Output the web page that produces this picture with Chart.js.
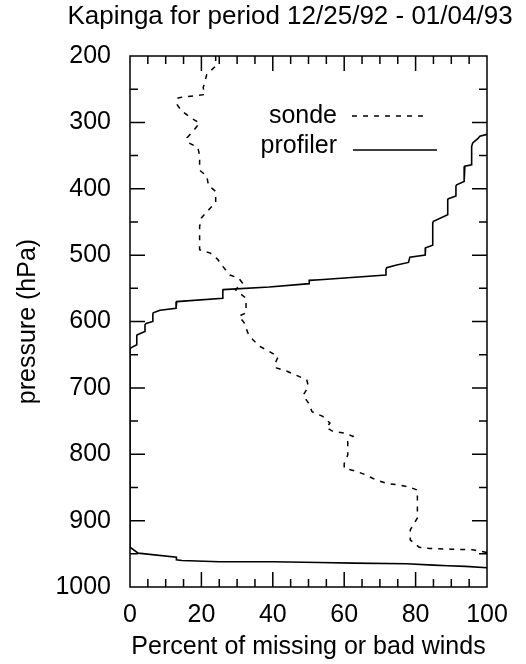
<!DOCTYPE html>
<html lang="en">
<head>
<meta charset="UTF-8">
<title>Kapinga - missing or bad winds</title>
<script src="https://cdn.jsdelivr.net/npm/chart.js@4.4.4/dist/chart.umd.min.js"></script>
<style>
  html, body { margin: 0; padding: 0; background: #fff; }
  #wrap { width: 526px; height: 664px; }
</style>
</head>
<body>
<div id="wrap"><canvas id="winds" width="526" height="664"></canvas></div>
<script>
// percent of missing / bad winds at each pressure level (hPa)
const sondePct = [24, 24, 21.5, 20.5, 21, 13.5, 13, 14.5, 17, 19.5, 18, 16, 16.5, 19, 19.5, 19.5,
  21.5, 22, 24, 24, 22, 20, 19.5, 19.5, 22.5, 24.5, 26, 28, 30.5, 31.5, 29.5, 32.5, 32.5, 30.5,
  32, 33, 34.5, 36.5, 39, 41.5, 40.5, 41, 44, 47, 49.5, 50, 48.5, 50, 51, 54, 56, 55, 57, 60,
  62.5, 61, 61, 60, 60, 63, 66, 69, 72, 75, 78, 80.5, 80.5, 78.5, 78.5, 81, 84, 90, 96, 100];
const sondeHpa = [200, 215, 228, 248, 258, 263, 272, 283, 293, 301, 311, 323, 331, 338, 350, 372,
  381, 395, 404, 420, 432, 444, 457, 492, 497, 506, 517, 530, 535, 542, 552, 565, 587, 592,
  602, 617, 628, 638, 645, 653, 665, 670, 675, 682, 688, 698, 711, 723, 736, 743, 753, 760, 766, 768,
  773, 781, 801, 814, 821, 825, 831, 839, 844, 846, 849, 854, 896, 914, 929, 940, 942, 943, 944, 948];

const profilerPct = [100, 98, 97.5, 96, 95.7, 95.7, 93.8, 93.6, 93.6, 91.5, 91.3, 91.3, 89.2, 89, 89,
  85, 84.8, 84.8, 82.8, 82.7, 82.7, 78.4, 78, 74.7, 71.9, 71.7, 71.7, 53.2, 50.2, 50.2, 39, 26.1, 26, 26,
  13.1, 12.9, 12.9, 8.4, 6.5, 6.4, 6.4, 4.5, 4.2, 4.2, 2.1, 1.9, 1.9, 0.5, 0, 0,
  2.3, 13, 13, 14.5, 25, 40, 53, 62.5, 77.5, 85, 89, 94, 100];
const profilerHpa = [318, 321, 324, 331, 336, 364, 366, 371, 389, 394, 396, 411, 415, 416, 439,
  449, 451, 485, 489, 492, 500, 503, 511, 515, 519, 522, 530, 537, 538, 543, 548, 552, 553, 565,
  570, 571, 580, 583, 587, 590, 600, 603, 605, 615, 620, 621, 635, 639, 641, 940,
  949, 955, 959, 960, 962, 962, 963, 964, 965, 967, 968, 969, 971];

const xTicks = [0, 20, 40, 60, 80, 100];
const yTicks = [200, 300, 400, 500, 600, 700, 800, 900, 1000];

const FONT = '"Liberation Sans", Arial, Helvetica, sans-serif';
const FONT_SIZE = 25;

function toPoints(xs, ys) {
  return xs.map((x, i) => ({ x: x, y: ys[i] }));
}

// box round the plot with tick marks pointing inward on every side
const framePlugin = {
  id: 'frame',
  afterDatasetsDraw(chart) {
    const { ctx, chartArea: a, scales } = chart;
    ctx.save();
    ctx.strokeStyle = '#000';
    ctx.lineWidth = 1.5;
    ctx.strokeRect(a.left, a.top, a.right - a.left, a.bottom - a.top);
    ctx.beginPath();
    for (let v = 5; v < 100; v += 5) {
      const px = scales.x.getPixelForValue(v);
      const len = v % 20 === 0 ? 15 : 8;
      ctx.moveTo(px, a.bottom); ctx.lineTo(px, a.bottom - len);
      ctx.moveTo(px, a.top); ctx.lineTo(px, a.top + len);
    }
    for (let p = 250; p < 1000; p += 50) {
      const py = scales.y.getPixelForValue(p);
      const len = p % 100 === 0 ? 15 : 8;
      ctx.moveTo(a.left, py); ctx.lineTo(a.left + len, py);
      ctx.moveTo(a.right, py); ctx.lineTo(a.right - len, py);
    }
    ctx.stroke();
    ctx.restore();
  }
};

// key inside the plot: label first, line sample after it
const keyPlugin = {
  id: 'key',
  afterDraw(chart) {
    const ctx = chart.ctx;
    const rows = [
      { textY: 123, lineY: 116, x0: 352, x1: 424 },
      { textY: 153, lineY: 150, x0: 353, x1: 437 }
    ];
    ctx.save();
    ctx.font = FONT_SIZE + 'px ' + FONT;
    ctx.fillStyle = '#000';
    ctx.strokeStyle = '#000';
    ctx.textAlign = 'right';
    ctx.textBaseline = 'alphabetic';
    chart.data.datasets.forEach((ds, i) => {
      const r = rows[i];
      ctx.fillText(ds.label, 337, r.textY);
      ctx.setLineDash(ds.borderDash || []);
      ctx.lineWidth = ds.borderWidth;
      ctx.beginPath();
      ctx.moveTo(r.x0, r.lineY);
      ctx.lineTo(r.x1, r.lineY);
      ctx.stroke();
    });
    ctx.restore();
  }
};

const titlePlugin = {
  id: 'heading',
  afterDraw(chart) {
    const ctx = chart.ctx;
    ctx.save();
    ctx.font = '26px ' + FONT;
    ctx.fillStyle = '#000';
    ctx.textAlign = 'center';
    ctx.textBaseline = 'alphabetic';
    ctx.fillText('Kapinga for period 12/25/92 - 01/04/93', 290, 24);
    ctx.restore();
  }
};

const tickFont = { family: FONT, size: FONT_SIZE };

new Chart(document.getElementById('winds'), {
  type: 'scatter',
  data: {
    datasets: [
      {
        label: 'sonde',
        data: toPoints(sondePct, sondeHpa),
        showLine: true,
        borderColor: '#000',
        borderWidth: 1.5,
        borderDash: [5, 6],
        pointRadius: 0,
        tension: 0
      },
      {
        label: 'profiler',
        data: toPoints(profilerPct, profilerHpa),
        showLine: true,
        borderColor: '#000',
        borderWidth: 1.6,
        pointRadius: 0,
        tension: 0
      }
    ]
  },
  options: {
    responsive: false,
    animation: false,
    devicePixelRatio: 1,
    layout: { padding: { top: 56, right: 39, left: 0, bottom: 0 } },
    plugins: {
      legend: { display: false },
      tooltip: { enabled: false }
    },
    scales: {
      x: {
        type: 'linear',
        min: 0,
        max: 100,
        afterBuildTicks: s => { s.ticks = xTicks.map(v => ({ value: v })); },
        afterFit: s => { s.height = 77; },
        grid: { display: false, drawTicks: false },
        border: { display: false },
        ticks: { font: tickFont, color: '#000', padding: 13, maxRotation: 0, callback: v => String(v) },
        title: {
          display: true,
          text: 'Percent of missing or bad winds',
          font: tickFont,
          color: '#000',
          padding: { top: 0, bottom: 2 }
        }
      },
      y: {
        type: 'linear',
        reverse: true,
        min: 200,
        max: 1000,
        afterBuildTicks: s => { s.ticks = yTicks.map(v => ({ value: v })); },
        afterFit: s => { s.width = 130; },
        grid: { display: false, drawTicks: false },
        border: { display: false },
        ticks: { font: tickFont, color: '#000', padding: 19, callback: v => String(v) },
        title: {
          display: true,
          text: 'pressure (hPa)',
          font: tickFont,
          color: '#000',
          padding: { top: 13, bottom: 0 }
        }
      }
    }
  },
  plugins: [framePlugin, keyPlugin, titlePlugin]
});
</script>
</body>
</html>
